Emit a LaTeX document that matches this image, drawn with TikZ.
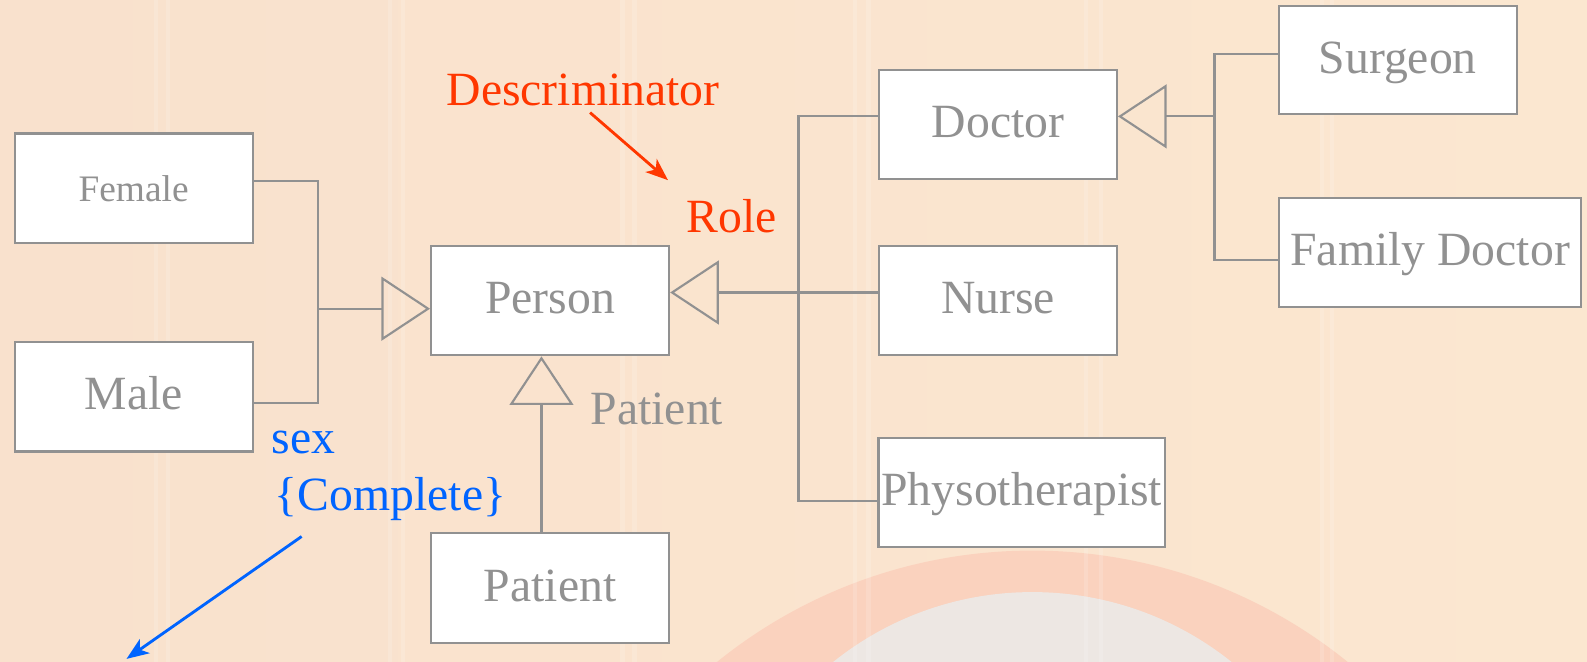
\documentclass[tikz,border=0pt]{standalone}
\usepackage{fontspec}
\setmainfont{Liberation Serif}
\usetikzlibrary{arrows.meta}

\definecolor{umlgray}{RGB}{145,145,145}
\definecolor{descred}{RGB}{255,55,0}
\definecolor{sexblue}{RGB}{0,100,255}
\definecolor{slidebg}{RGB}{249,225,205}
\definecolor{slideright}{RGB}{251,231,208}
\definecolor{ringc}{RGB}{250,210,190}
\definecolor{diskc}{RGB}{237,231,227}

\begin{document}
\begin{tikzpicture}[x=0.01cm, y=0.01cm,
    every node/.style={font=\fontsize{13.4}{16}\selectfont, text=umlgray},
    cls/.style={draw=umlgray, fill=white, line width=0.6pt, inner sep=0pt,
        minimum width=2.35cm, minimum height=1.08cm, text height=0.74em, text depth=0pt},
    line/.style={draw=umlgray, line width=0.6pt},
    gen/.style={line, line join=miter, -{Triangle[open, length=0.48cm, width=0.63cm]}},
    note/.style={line width=0.8pt, -{Stealth[length=0.22cm, width=0.17cm, inset=0.06cm]}}]
    \useasboundingbox (0,0) rectangle (1568,654);
    % slide background
    \shade[left color=slidebg, right color=slideright] (0,0) rectangle (1568,654);
    \begin{scope}
        \clip (0,0) rectangle (1568,654);
        \fill[ringc] (1020,-386) circle (496);
        \fill[diskc] (1020,-246) circle (315);
        \foreach \sx in {154,166,385,398,615,627,845,858,1073,1088,1306,1316}
            \draw[white, opacity=0.15, line width=1.2pt] (\sx,0) -- (\sx,654);
    \end{scope}

    % classes
    \node[cls] (person) at (543.5,357) {Person};
    \node[cls, font=\fontsize{10.5}{12}\selectfont] (female) at (132,468) {Female};
    \node[cls] (male) at (132,262) {Male};
    \node[cls] (patient) at (543.5,73) {Patient};
    \node[cls] (doctor) at (986,531) {Doctor};
    \node[cls] (nurse) at (986,357) {Nurse};
    \node[cls, minimum width=2.83cm] (physio) at (1009.5,167.5) {Physotherapist};
    \node[cls, minimum height=1.07cm] (surgeon) at (1381,594.5) {Surgeon};
    \node[cls, minimum width=2.98cm, minimum height=1.07cm] (famdoc) at (1413,404.5) {Family Doctor};

    % sex
    \coordinate (sexj) at (314,349);
    \draw[line] ([yshift=0.07cm]female.east) -| (sexj) |- ([yshift=-0.06cm]male.east);
    \draw[gen] (sexj) -- (sexj -| person.west);

    % role
    \coordinate (rtop) at (789,539);
    \coordinate (rmid) at (789,365);
    \coordinate (rbot) at (789,159);
    \draw[line] (rtop -| doctor.west) -- (rtop) -- (rbot) -- (rbot -| physio.west);
    \draw[line] (rmid) -- (rmid -| nurse.west);
    \draw[gen] (rmid) -- (rmid -| person.east);

    % doctor kinds
    \coordinate (dtop) at (1200,601);
    \coordinate (dj) at (1200,539);
    \coordinate (dbot) at (1200,397);
    \draw[line] (dtop -| surgeon.west) -- (dtop) -- (dbot) -- (dbot -| famdoc.west);
    \draw[gen] (dj) -- (dj -| doctor.east);

    % patient
    \draw[gen] ([xshift=-0.085cm]patient.north) -- ([xshift=-0.085cm]person.south);
    \node (patlbl) at (649,250) {Patient};

    % labels
    \node[text=descred] (descr) at (576,565) {Descriminator};
    \node[text=descred] (role) at (723,440) {Role};
    \coordinate (roletip) at (660,476);
    \draw[note, descred] ([xshift=0.07cm,yshift=0.06cm]descr.south) -- (roletip);

    \node[text=sexblue, anchor=west, inner sep=0pt] (sexlbl) at (268,217) {sex};
    \node[text=sexblue, anchor=west, inner sep=0pt] (compl) at (271,161) {\{Complete\}};
    \coordinate (sextip) at (125,3);
    \draw[note, sexblue] ([xshift=0.27cm,yshift=-0.15cm]compl.south west) -- (sextip);
\end{tikzpicture}
\end{document}
